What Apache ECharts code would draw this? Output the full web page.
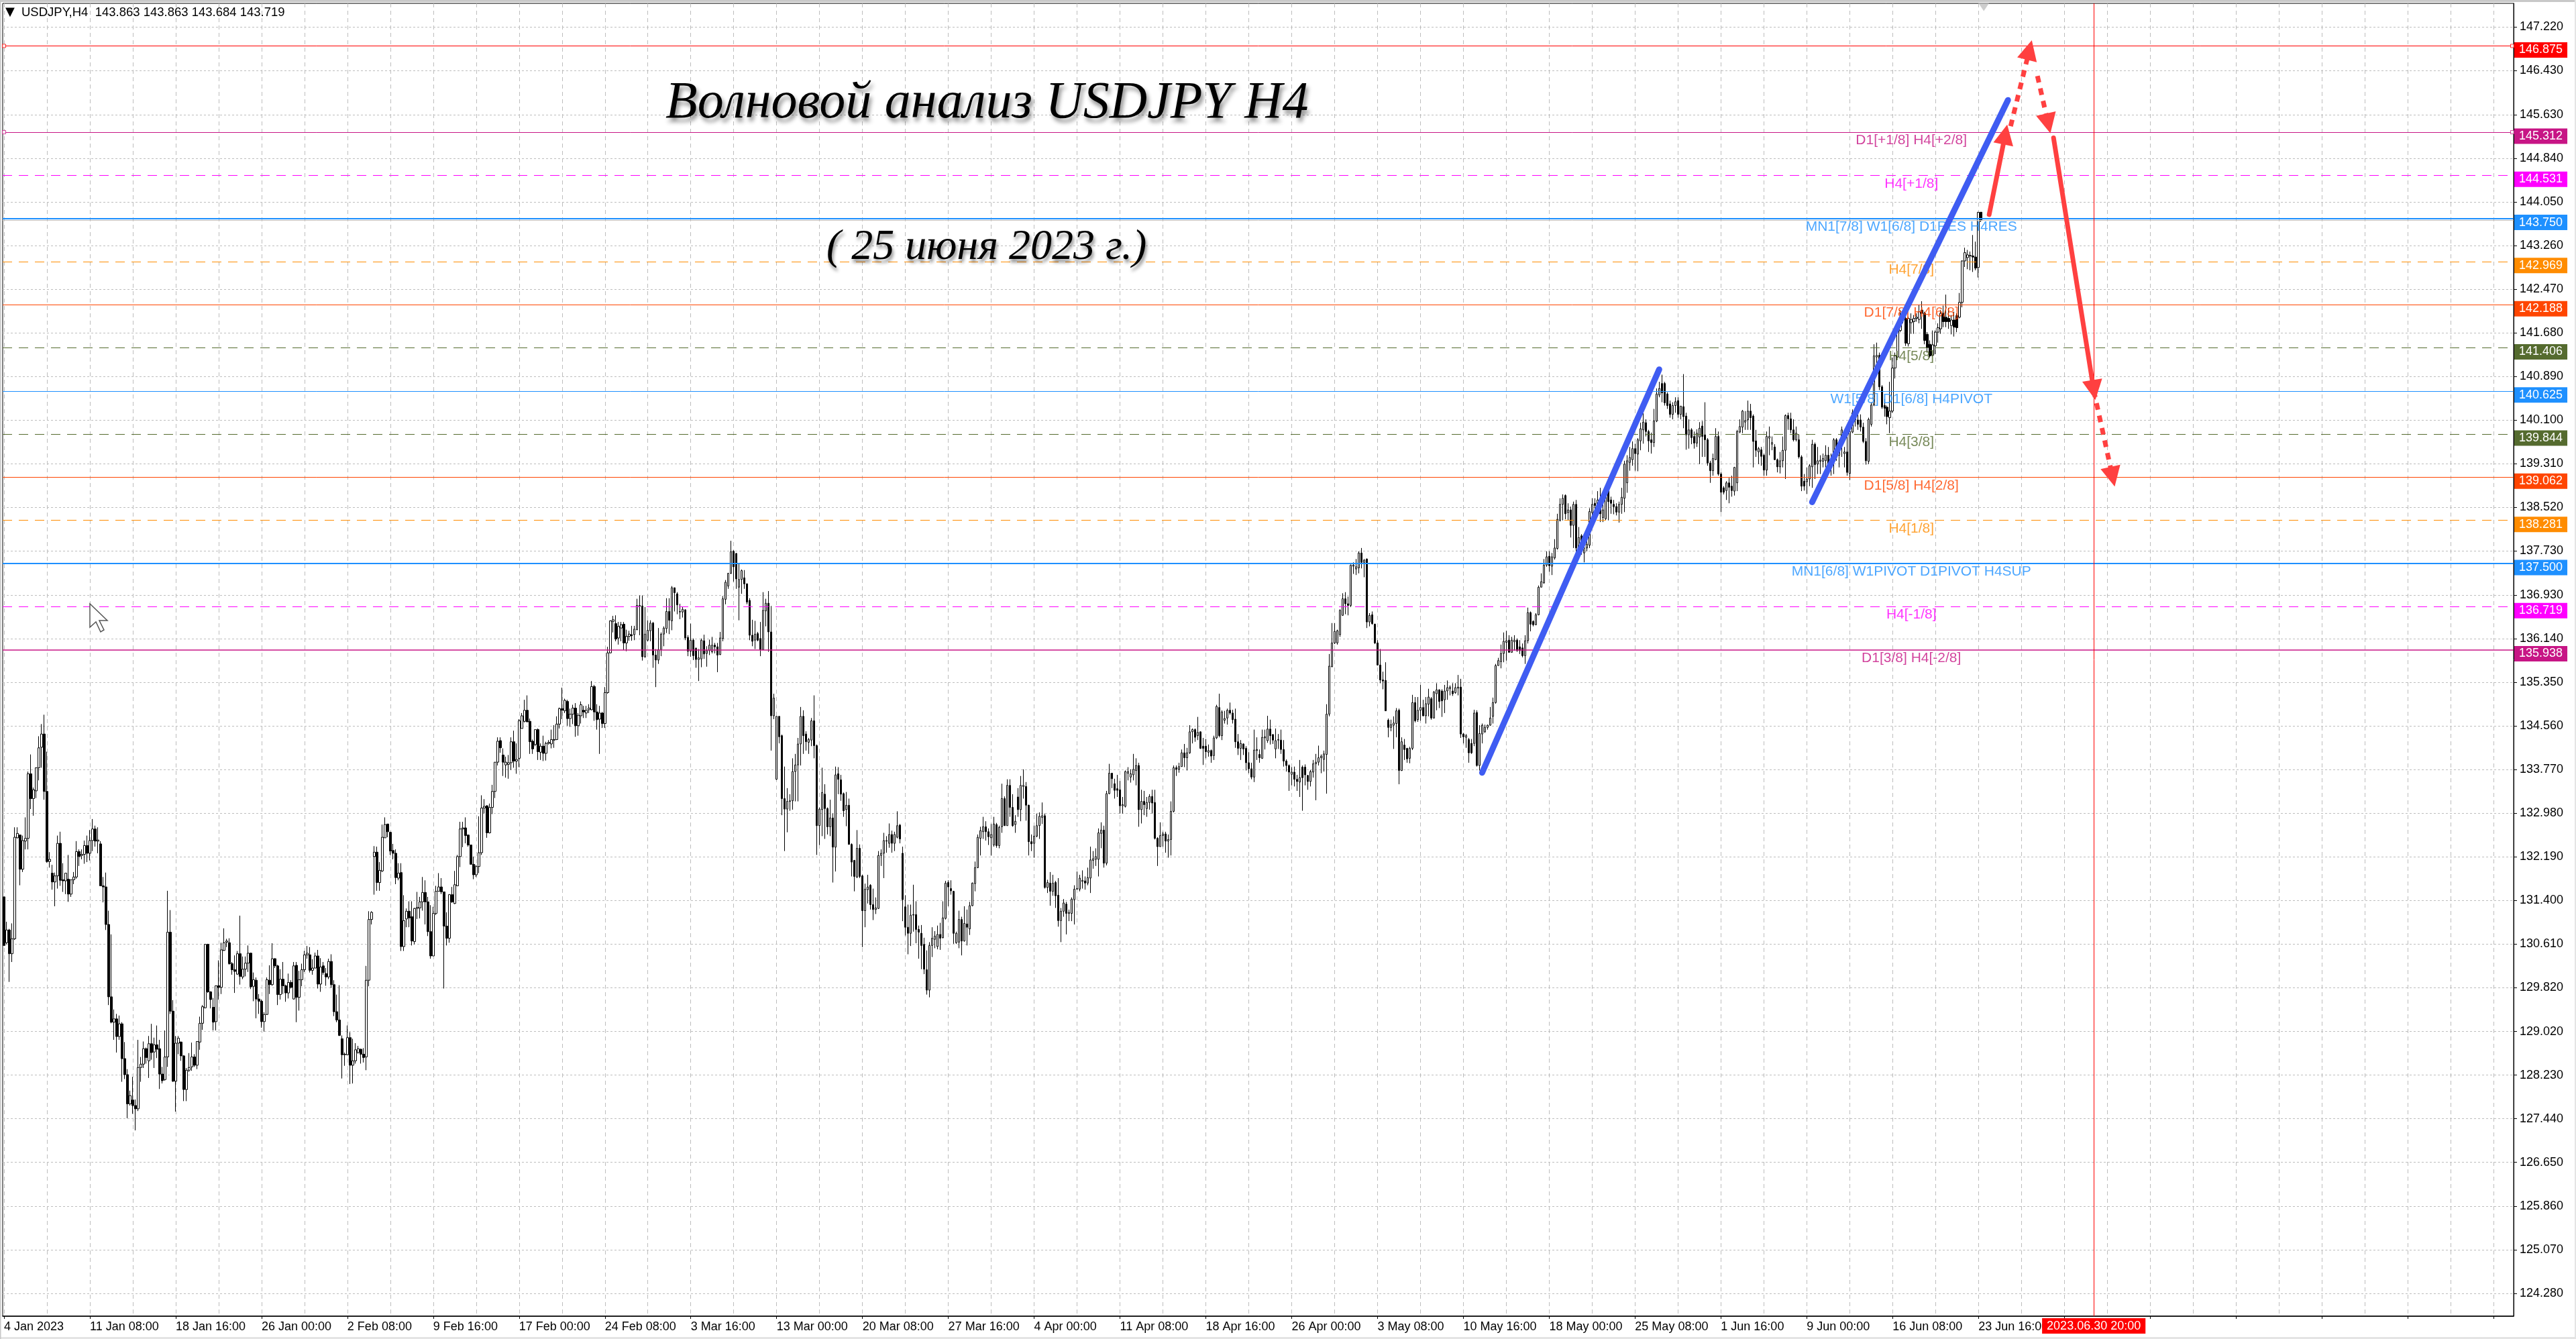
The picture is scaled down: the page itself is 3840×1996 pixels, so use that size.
<!DOCTYPE html>
<html><head><meta charset="utf-8">
<style>html,body{margin:0;padding:0;background:#fff}#c{width:3840px;height:1996px}</style>
<script src="https://cdn.jsdelivr.net/npm/echarts@6/dist/echarts.min.js"></script>
</head><body><div id="c"></div>
<script>
const yTicks=[147.22,146.43,145.63,144.84,144.05,143.26,142.47,141.68,140.89,140.10,139.31,138.52,137.73,136.93,136.14,135.35,134.56,133.77,132.98,132.19,131.40,130.61,129.82,129.02,128.23,127.44,126.65,125.86,125.07,124.28];
const tickLabels=['4 Jan 2023','11 Jan 08:00','18 Jan 16:00','26 Jan 00:00','2 Feb 08:00','9 Feb 16:00','17 Feb 00:00','24 Feb 08:00','3 Mar 16:00','13 Mar 00:00','20 Mar 08:00','27 Mar 16:00','4 Apr 00:00','11 Apr 08:00','18 Apr 16:00','26 Apr 00:00','3 May 08:00','10 May 16:00','18 May 00:00','25 May 08:00','1 Jun 16:00','9 Jun 00:00','16 Jun 08:00','23 Jun 16:00'];
// each bar: open, high, low, close
const barsJan=[[131.46,131.46,130.58,130.58],[130.63,131.01,130.60,130.86],[130.86,130.88,129.92,130.43],[130.43,130.98,130.28,130.70],[130.70,132.72,130.68,132.54],[132.53,132.72,132.52,132.61],[132.58,132.59,131.67,131.96],[131.96,132.57,131.91,132.48],[132.47,132.90,132.32,132.52],[132.52,133.73,132.32,133.69],[133.69,134.04,133.05,133.24],[133.24,133.44,132.93,133.40],[133.38,133.80,133.25,133.80],[133.80,134.37,133.57,134.16],[134.17,134.59,133.80,134.41],[134.41,134.76,133.22,133.37],[133.37,134.09,132.08,132.10],[132.10,132.27,131.99,132.14],[131.89,132.04,131.59,131.73],[131.73,131.90,131.29,131.84],[131.84,132.57,131.61,132.43],[132.43,132.64,131.66,131.76],[131.77,132.07,131.55,131.75],[131.75,131.89,131.51,131.89],[131.78,132.22,131.37,131.51],[131.51,131.77,131.46,131.77],[131.77,131.91,131.69,131.82],[131.82,132.47,131.79,132.28],[132.28,132.32,132.02,132.19],[132.21,132.32,132.14,132.23],[132.23,132.48,132.06,132.39],[132.39,132.57,132.09,132.25],[132.25,132.67,132.12,132.48],[132.48,132.87,132.29,132.69],[132.69,132.75,132.37,132.47],[132.47,132.72,132.25,132.49],[132.42,132.47,131.66,131.66],[131.66,131.82,131.36,131.64],[131.64,131.90,130.86,130.96],[130.96,131.21,129.50,129.65],[129.65,130.78,129.17,129.19],[129.19,129.42,128.87,129.25],[129.25,129.34,128.64,128.93],[128.93,129.31,128.87,129.16],[129.16,129.19,128.11,128.53],[128.53,128.83,128.16,128.24],[128.24,128.34,127.45,127.71],[127.71,127.95,127.68,127.86],[127.78,128.20,127.53,127.68],[127.68,127.79,127.23,127.62]];
const barsFeb=[[127.62,128.87,127.58,128.37],[128.37,128.56,128.11,128.43],[128.43,128.84,128.36,128.71],[128.71,128.73,128.44,128.55],[128.49,128.94,128.18,128.80],[128.80,129.16,128.51,128.64],[128.65,128.91,128.36,128.78],[128.78,129.13,128.54,128.70],[128.71,128.87,127.98,128.25],[128.25,128.38,128.08,128.13],[128.15,129.04,128.13,128.56],[128.56,131.57,128.38,130.82],[130.82,131.22,129.34,129.39],[129.39,129.59,128.11,128.12],[128.12,128.94,127.57,128.81],[128.81,128.94,128.61,128.90],[128.83,128.84,128.49,128.58],[128.58,128.59,127.76,127.97],[127.97,128.36,127.76,128.32],[128.32,128.63,128.29,128.37],[128.38,128.82,128.31,128.56],[128.56,128.61,128.38,128.41],[128.41,128.84,128.34,128.84],[128.83,129.29,128.69,129.17],[129.17,129.50,129.05,129.47],[129.45,130.60,129.44,130.60],[130.60,130.61,129.72,129.74],[129.74,129.75,129.44,129.60],[129.46,129.63,129.04,129.19],[129.20,129.85,129.04,129.85],[129.85,130.31,129.60,129.82],[129.82,130.63,129.70,130.50],[130.49,130.89,130.48,130.63],[130.64,130.70,130.55,130.66],[130.63,130.71,130.23,130.25],[130.25,130.28,130.05,130.14],[130.14,130.40,129.72,130.11],[130.06,130.48,130.05,130.43],[130.43,131.12,129.87,130.02],[130.01,130.38,129.97,130.15],[130.15,130.38,130.02,130.26],[130.26,130.58,130.10,130.44],[130.44,130.45,129.79,129.83],[129.84,130.09,129.57,129.96],[129.95,130.00,129.26,129.61],[129.61,129.70,129.34,129.57],[129.57,129.60,129.09,129.20],[129.20,129.37,129.02,129.33],[129.33,130.00,129.32,129.96],[129.95,130.22,129.70,129.87]];
const barsMar1=[[129.87,130.62,129.85,130.34],[130.34,130.35,130.17,130.21],[130.21,130.23,129.50,129.69],[129.69,130.15,129.60,129.97],[129.97,130.28,129.70,129.85],[129.85,129.87,129.56,129.72],[129.72,130.07,129.62,129.91],[129.91,129.95,129.80,129.82],[129.61,130.28,129.60,130.21],[130.22,130.28,129.19,129.64],[129.64,130.12,129.40,129.96],[129.96,130.25,129.84,130.14],[130.14,130.48,130.10,130.41],[130.41,130.57,130.34,130.44],[130.41,130.55,130.09,130.13],[130.13,130.33,130.05,130.17],[130.17,130.45,130.17,130.39],[130.39,130.50,129.80,129.88],[129.88,130.35,129.74,130.19],[130.21,130.28,130.05,130.09],[130.07,130.17,129.85,130.01],[130.01,130.34,129.97,130.29],[130.29,130.42,129.81,129.87],[129.87,129.95,129.30,129.38],[129.38,129.69,129.19,129.23],[129.23,129.86,128.94,128.95],[128.89,128.95,128.17,128.60],[128.60,128.64,128.40,128.61],[128.60,129.13,128.59,128.91],[128.91,129.01,128.07,128.41],[128.41,128.89,128.08,128.49],[128.49,128.81,128.44,128.69],[128.64,128.76,128.62,128.71],[128.70,128.71,128.44,128.61],[128.61,128.72,128.46,128.55],[128.56,130.21,128.32,129.95],[129.95,131.20,129.84,131.05],[131.05,131.20,130.96,131.18]];
const barsMar2=[[132.19,132.38,131.50,132.27],[132.27,132.37,131.57,131.72],[131.72,132.09,131.57,131.94],[131.93,132.77,131.91,132.54],[132.53,132.90,132.53,132.77],[132.78,132.78,132.54,132.64],[132.63,132.64,132.22,132.29],[132.30,132.42,132.14,132.25],[132.25,132.32,131.69,131.81],[131.80,132.07,131.76,131.89],[131.90,132.07,130.48,130.56],[130.56,131.49,130.48,131.03],[131.06,131.25,130.91,131.20],[131.20,131.38,130.91,131.08],[131.10,131.38,130.58,130.66],[130.65,131.26,130.60,131.25],[131.25,131.55,131.06,131.27],[131.26,131.46,131.07,131.37],[131.37,131.82,131.21,131.54],[131.54,131.76,130.96,131.37],[131.37,131.46,130.75,130.83],[130.83,131.31,130.34,130.39],[130.39,131.28,130.39,131.16],[131.16,131.66,131.13,131.56],[131.56,131.89,131.56,131.64],[131.64,131.80,131.51,131.55],[131.55,131.55,129.80,130.93],[130.93,131.18,130.58,130.71],[130.71,131.51,130.63,131.50],[131.50,131.64,131.35,131.37],[131.34,131.93,131.33,131.68],[131.66,132.22,131.66,132.19],[132.19,132.82,132.00,132.69],[132.69,132.82,132.36,132.71],[132.71,132.90,132.43,132.57],[132.58,132.59,132.37,132.40],[132.40,132.40,132.05,132.05],[132.05,132.19,131.78,131.86],[131.86,132.04,131.82,132.01],[132.01,132.92,131.89,132.26],[132.26,133.30,132.22,133.07],[133.07,133.23,132.97,133.10],[133.11,133.12,132.53,132.62],[132.62,133.15,132.61,133.08],[133.08,133.49,132.96,133.37],[133.37,133.90,133.25,133.90],[133.90,134.35,133.84,134.28],[134.29,134.35,134.07,134.16]];
const barsApr1=[[134.03,134.15,133.65,133.90],[133.85,134.00,133.62,133.90],[133.86,134.03,133.60,133.89],[133.89,134.35,133.76,134.27],[134.27,134.47,133.80,133.92],[133.92,134.24,133.69,133.95],[133.97,134.68,133.81,134.65],[134.51,134.79,134.51,134.74],[134.64,135.03,134.62,134.84],[134.84,135.11,134.63,134.63],[134.64,134.69,134.05,134.27],[134.28,134.31,134.05,134.14],[134.22,134.49,134.19,134.49],[134.49,134.51,133.94,134.09],[134.08,134.24,133.94,134.19],[134.19,134.38,133.92,134.06],[134.06,134.27,133.93,134.24],[134.24,134.30,134.22,134.26],[134.23,134.49,134.15,134.31],[134.31,134.57,134.16,134.30],[134.31,134.73,134.30,134.59],[134.59,134.89,134.51,134.87],[134.87,135.25,134.68,134.84],[134.83,135.05,134.79,135.02],[135.00,135.03,134.56,134.69],[134.69,134.87,134.54,134.77],[134.77,134.94,134.59,134.88],[134.88,134.97,134.36,134.56],[134.56,134.79,134.38,134.75],[134.74,135.00,134.60,134.94],[134.84,134.92,134.70,134.81],[134.79,134.92,134.70,134.84],[134.85,134.95,134.79,134.88],[134.85,135.37,134.84,135.27],[135.27,135.30,134.65,134.81],[134.81,134.95,134.49,134.67],[134.68,134.92,134.05,134.79],[134.79,134.81,134.52,134.60],[134.60,135.26,134.52,135.16],[135.16,135.99,135.14,135.88],[135.88,136.47,135.87,136.46],[136.45,136.55,136.25,136.48],[136.41,136.56,136.09,136.13],[136.15,136.44,136.03,136.36],[136.33,136.44,136.09,136.39],[136.40,136.44,135.93,136.06],[136.06,136.30,135.91,136.18],[136.18,136.28,136.10,136.22],[136.21,136.37,136.10,136.19],[136.21,136.37,136.11,136.31],[136.30,136.86,136.29,136.74],[136.72,136.92,136.20,136.74],[136.73,136.92,135.74,135.81],[135.81,136.71,135.79,136.22]];
const barsApr2=[[136.11,136.47,136.09,136.29],[136.28,136.47,136.09,136.42],[136.42,136.44,135.61,135.84],[135.84,135.95,135.26,135.75],[135.75,136.33,135.68,135.94],[135.94,136.25,135.82,136.22],[136.22,136.36,136.00,136.33],[136.32,136.87,136.24,136.63],[136.63,136.87,136.22,136.47],[136.46,137.09,136.29,137.06],[137.06,137.06,136.63,136.97],[136.95,136.98,136.58,136.75],[136.62,136.77,136.49,136.63],[136.62,136.71,136.52,136.67],[136.66,136.67,136.11,136.15],[136.16,136.20,135.82,135.91],[135.91,136.41,135.81,136.11],[136.11,136.14,135.75,135.83],[135.96,135.98,135.61,135.76],[135.76,135.95,135.37,135.79],[135.77,136.14,135.62,136.11],[136.10,136.21,135.77,135.86],[135.87,136.00,135.63,135.92],[135.92,136.12,135.84,136.02],[135.90,136.17,135.87,136.02],[136.02,136.06,135.87,135.99],[135.99,136.06,135.53,135.84],[135.85,136.26,135.84,136.15],[136.14,136.91,136.09,136.86],[136.85,137.20,136.76,137.16],[137.09,137.33,137.04,137.32],[137.32,137.91,137.31,137.71],[137.72,137.74,137.17,137.44],[137.68,137.69,137.04,137.22],[137.07,137.51,136.47,137.21],[137.21,137.39,136.95,137.37],[137.24,137.38,137.04,137.13],[137.13,137.14,136.76,136.80],[136.83,136.87,136.11,136.20],[136.20,136.48,136.00,136.09],[136.11,136.46,135.95,136.22],[136.23,136.26,136.09,136.11],[136.14,136.44,135.82,135.94],[135.94,136.98,135.93,136.65],[136.64,136.86,136.36,136.78],[136.78,137.00,135.90,136.26],[136.26,136.73,134.11,134.74],[134.74,135.14,134.68,135.06],[133.59,134.73,133.58,134.73],[134.73,134.73,134.24,134.36],[134.38,134.40,132.94,133.24],[133.24,133.82,132.29,133.05],[133.05,133.43,132.63,133.19],[133.19,133.32,133.02,133.20],[133.20,133.97,133.04,133.73],[133.73,134.05,133.19,133.85],[133.85,134.34,133.19,134.23],[134.23,134.90,133.84,134.73],[134.73,134.84,134.05,134.38],[134.41,134.46,134.11,134.27],[134.26,134.34,134.05,134.31],[134.30,134.70,134.19,134.65],[134.65,135.11,133.97,134.20],[134.20,134.22,132.22,132.75]];
const barsMay1=[[132.75,133.08,132.40,133.05],[133.04,133.80,132.56,133.35],[133.32,133.50,132.51,133.06],[133.06,133.08,132.59,132.73],[132.73,133.22,132.56,132.89],[132.89,132.97,131.72,132.36],[132.36,133.82,131.92,133.67],[133.69,133.81,133.32,133.59],[133.58,133.67,133.20,133.32],[133.33,133.35,132.91,133.02],[133.04,133.36,132.74,133.12],[133.12,133.24,132.41,132.41],[132.41,132.43,131.83,132.09],[132.12,132.13,131.56,131.83],[131.82,132.67,131.80,132.34],[132.34,132.41,131.80,131.83],[131.84,131.86,130.55,131.21],[131.21,131.70,130.91,131.60],[131.59,131.86,131.34,131.64],[131.67,131.69,131.23,131.32],[131.32,131.61,131.04,131.23],[131.23,131.45,131.15,131.26],[131.25,132.29,131.24,132.21],[132.21,132.32,132.02,132.25],[132.25,132.62,131.80,132.48],[132.47,132.56,132.26,132.48],[132.43,132.79,132.35,132.59],[132.59,132.66,132.26,132.43],[132.43,132.64,132.29,132.59],[132.54,133.01,132.52,132.75],[132.76,132.78,132.43,132.51],[132.25,132.37,131.02,131.41],[131.28,131.49,130.76,130.91],[130.91,131.32,130.42,130.80],[130.80,131.32,130.57,131.13],[131.13,131.68,130.83,131.14],[131.14,131.38,130.62,130.87],[130.87,130.94,130.34,130.82],[130.80,130.95,130.15,130.58],[130.60,130.72,130.06,130.15],[130.14,130.49,129.69,129.77],[129.77,130.64,129.64,130.58],[130.58,130.91,130.37,130.71],[130.69,130.84,130.53,130.75],[130.56,130.94,130.51,130.78],[130.78,130.99,130.50,130.71],[130.72,131.38,130.71,131.08],[131.07,131.75,131.05,131.71],[131.72,131.76,131.29,131.64],[131.61,131.76,131.50,131.57],[131.56,131.57,130.61,130.80],[130.63,130.83,130.61,130.80],[130.64,131.21,130.53,131.05],[131.05,131.10,130.40,130.66],[130.66,131.29,130.65,130.98],[130.97,131.23,130.58,130.91],[130.88,131.37,130.77,131.30],[131.30,131.72,131.29,131.71],[131.70,132.10,131.56,131.99],[131.99,132.59,131.98,132.54],[132.52,132.73,132.21,132.66],[132.64,132.91,132.51,132.73],[132.73,132.83,132.48,132.64],[132.64,132.70,132.40,132.55],[132.53,132.78,132.21,132.59],[132.40,132.91,132.37,132.78],[132.77,132.80,132.35,132.39],[132.39,132.75,132.34,132.72],[132.73,133.51,132.62,133.24],[133.24,133.28,132.75,132.75]];
const barsMay2=[[132.75,133.59,132.75,133.48],[133.48,133.59,132.91,133.08],[133.08,133.32,132.73,132.75],[132.77,132.94,132.62,132.83],[133.27,133.43,132.91,133.04],[133.04,133.65,132.83,133.48],[133.46,133.77,133.24,133.48],[133.46,133.54,132.84,133.12],[133.12,133.13,132.21,132.46],[132.46,132.59,132.29,132.42],[132.43,132.75,132.17,132.56],[132.56,132.97,132.54,132.75],[132.75,132.99,132.51,132.92],[132.90,133.17,132.78,132.93],[132.93,132.97,131.61,131.63],[131.63,131.77,131.53,131.72],[131.71,131.91,131.30,131.56],[131.56,131.86,131.48,131.71],[131.72,131.75,131.26,131.48],[131.49,131.80,130.92,131.03],[131.03,131.26,130.64,131.20],[131.20,131.42,131.10,131.35],[131.33,131.37,130.78,131.16],[131.16,131.23,131.02,131.18],[131.16,131.45,131.02,131.42],[131.41,131.67,130.96,131.60],[131.60,131.92,131.59,131.61],[131.60,131.86,131.56,131.80],[131.74,131.94,131.61,131.76],[131.75,131.83,131.59,131.71],[131.71,131.99,131.67,131.81],[131.80,132.37,131.53,132.13],[132.12,132.29,131.97,132.15],[132.14,132.34,132.02,132.19],[132.14,132.70,131.83,132.62],[132.61,132.81,132.34,132.67],[132.67,132.75,131.99,132.07],[132.07,133.38,132.03,133.33],[133.33,133.87,133.32,133.70],[133.70,133.70,133.43,133.60],[133.51,133.60,133.24,133.39],[133.42,133.67,133.27,133.39],[133.40,133.56,132.97,133.11],[133.11,133.27,132.97,133.13],[133.10,133.75,133.08,133.73],[133.70,133.81,133.57,133.73],[133.63,133.77,133.53,133.69],[133.67,134.05,133.57,133.77],[133.75,133.97,133.48,133.84],[133.84,133.89,132.73,133.04],[133.04,133.40,132.79,133.19],[133.19,133.38,132.94,133.13],[133.06,133.27,132.91,133.17],[133.17,133.32,133.04,133.28],[133.28,133.40,132.97,133.16],[133.17,133.40,132.50,132.52],[132.52,132.54,132.02,132.37],[132.37,132.81,132.37,132.57],[132.57,132.64,132.37,132.60],[132.60,132.64,132.26,132.47],[132.47,132.59,132.17,132.50],[132.50,133.19,132.21,133.01],[133.01,133.84,132.99,133.80],[133.80,133.84,133.65,133.77],[133.77,133.89,133.71,133.82],[133.82,134.13,133.82,134.07],[134.07,134.23,133.81,133.98],[133.98,134.16,133.75,134.07],[134.07,134.57,134.05,134.45],[134.45,134.51,134.24,134.49],[134.49,134.51,134.27,134.35],[134.38,134.72,134.30,134.44],[134.45,134.46,134.14,134.15]];
const barsMay3=[[134.19,134.34,133.85,134.15],[134.19,134.32,133.97,134.09],[134.08,134.22,134.00,134.11],[134.11,134.13,133.89,134.01],[134.02,134.38,133.94,134.34],[134.34,134.94,134.32,134.91],[134.89,135.14,134.35,134.38],[134.38,134.84,134.30,134.81],[134.66,134.83,134.60,134.69],[134.70,134.87,134.58,134.84],[134.84,134.98,134.76,134.79],[134.79,134.85,134.60,134.67],[134.68,134.87,134.16,134.27],[134.27,134.41,134.03,134.15],[134.15,134.30,133.94,134.24],[134.23,134.24,134.03,134.14],[134.15,134.19,133.75,133.89],[133.89,134.08,133.70,133.78],[133.78,133.89,133.59,133.63],[133.63,134.49,133.54,134.12],[134.11,134.35,133.94,134.13],[134.04,134.13,133.89,133.98],[133.97,134.49,133.96,134.35],[134.34,134.49,134.13,134.36],[134.29,134.74,134.25,134.50],[134.50,134.67,134.22,134.38],[134.40,134.41,134.23,134.30],[134.14,134.51,133.97,134.29],[134.30,134.41,134.14,134.31],[134.30,134.49,134.05,134.13],[134.13,134.30,133.82,133.92],[133.92,133.95,133.73,133.84],[133.84,133.86,133.38,133.72],[133.68,133.81,133.48,133.72],[133.72,133.82,133.46,133.59],[133.59,133.67,133.38,133.55],[133.54,133.94,133.27,133.62],[133.81,133.84,133.02,133.62],[133.81,133.86,133.48,133.67],[133.66,133.67,133.40,133.55],[133.55,133.76,133.46,133.73],[133.72,133.94,133.62,133.87],[133.87,134.05,133.21,133.90],[133.90,134.20,133.84,133.98],[133.98,134.04,133.70,134.01],[133.95,134.11,133.73,134.05],[134.04,134.95,133.33,134.77],[134.77,135.86,134.73,135.64],[135.63,136.42,135.62,136.06],[136.06,136.42,136.04,136.27],[136.06,136.30,136.03,136.28],[136.21,136.67,136.17,136.65],[136.56,136.96,136.55,136.86],[136.86,136.98,136.58,136.77],[136.77,136.90,136.56,136.74],[136.74,137.48,136.71,137.47],[137.45,137.52,137.31,137.47],[137.40,137.58,137.29,137.44],[137.42,137.72,137.32,137.69],[137.69,137.78,137.41,137.52],[137.52,137.58,137.25,137.56],[137.58,137.59,136.33,136.44],[136.44,136.60,136.36,136.56],[136.57,136.63,136.39,136.41],[136.40,136.41,136.04,136.06],[136.06,136.11,135.65,135.66],[135.66,135.95,135.33,135.39],[135.39,135.54,135.22,135.37],[135.38,135.71,134.83,134.83]];
const barsMay4=[[134.66,134.69,134.35,134.53],[134.53,134.67,134.46,134.58],[134.57,134.73,134.14,134.61],[134.60,134.88,134.35,134.83],[134.84,134.87,133.50,133.75],[133.75,134.35,133.74,134.27],[134.21,134.32,133.94,134.13],[134.15,134.16,133.89,133.96],[133.97,134.18,133.88,134.15],[134.15,135.12,134.12,134.98],[134.98,135.08,134.62,134.65],[134.67,135.08,134.63,134.84],[134.84,135.30,134.65,134.89],[134.89,135.03,134.73,134.74],[134.74,135.08,134.60,134.96],[134.95,135.23,134.73,135.08],[135.05,135.08,134.67,134.70],[134.70,135.19,134.69,135.17],[135.14,135.33,134.84,135.21],[135.21,135.22,134.88,135.00],[135.19,135.22,134.72,135.01],[135.03,135.30,134.79,135.19],[135.19,135.38,135.03,135.25],[135.23,135.29,135.11,135.26],[135.19,135.33,135.10,135.14],[135.16,135.33,135.14,135.25],[135.24,135.48,135.11,135.26],[135.26,135.41,134.34,134.41],[134.41,134.43,134.24,134.36],[134.35,134.41,134.16,134.38],[134.31,134.34,133.89,134.07],[134.24,134.32,134.05,134.07],[134.24,134.85,134.19,134.79],[134.80,134.84,133.82,133.84],[133.84,134.57,133.75,134.42],[134.41,134.60,134.24,134.57],[134.45,134.58,134.43,134.53],[134.53,134.58,134.49,134.57],[134.57,134.90,134.56,134.70],[134.73,135.07,134.60,134.98],[134.98,135.68,134.96,135.65],[135.65,135.79,135.65,135.74],[135.72,136.03,135.60,135.87],[135.87,136.25,135.71,136.09],[136.07,136.28,135.74,136.10]];
const barsJun1=[[136.11,136.20,135.89,135.89],[135.89,136.17,135.89,136.11],[136.08,136.20,135.92,136.11],[136.11,136.14,135.90,135.92],[135.99,136.11,135.86,135.92],[135.97,136.05,135.80,135.83],[135.83,136.20,135.68,136.10],[136.10,136.70,136.05,136.61],[136.61,136.63,136.27,136.40],[136.45,136.47,136.36,136.39],[136.39,136.60,136.38,136.57],[136.57,137.10,136.56,137.07],[137.07,137.32,137.07,137.17],[137.15,137.58,137.13,137.47],[137.47,137.72,137.44,137.62],[137.63,137.72,137.35,137.46],[137.45,137.69,137.29,137.62],[137.60,137.94,137.57,137.78],[137.77,138.40,137.75,138.30],[138.28,138.68,138.26,138.57],[138.57,138.75,138.28,138.68],[138.73,138.75,138.30,138.40],[138.42,138.59,138.28,138.47],[138.47,138.53,137.97,138.19],[138.19,138.62,137.78,138.57],[138.57,138.65,137.66,137.78],[137.78,138.16,137.72,137.97],[138.00,138.03,137.66,137.72],[137.69,137.85,137.52,137.78],[137.78,138.00,137.72,137.85],[137.83,138.50,137.78,138.44],[138.42,138.68,138.28,138.57],[138.59,138.68,138.31,138.55],[138.56,138.81,138.37,138.65],[138.62,138.87,138.25,138.40],[138.33,138.68,138.25,138.47],[138.31,138.90,138.28,138.87],[138.87,138.90,138.28,138.62],[138.65,138.71,138.40,138.59],[138.57,138.65,138.39,138.53],[138.53,138.59,138.37,138.43],[138.43,138.62,138.24,138.57],[138.57,138.87,138.40,138.70],[138.68,139.36,138.43,139.30],[138.96,139.46,138.78,139.36],[139.33,139.61,139.18,139.42],[139.38,139.71,139.27,139.58],[139.58,139.67,139.18,139.49],[139.48,139.77,139.17,139.74],[139.72,140.05,139.55,139.94],[139.92,140.22,139.67,140.06],[140.05,140.11,139.80,139.89],[139.89,139.92,139.52,139.72],[139.74,139.87,139.49,139.69],[139.69,140.30,139.61,140.08],[140.08,140.67,140.06,140.57],[140.55,140.79,140.51,140.67],[140.76,140.92,140.42,140.59],[140.76,140.79,140.36,140.41],[140.57,140.60,140.30,140.36],[140.39,140.45,140.14,140.20],[140.20,140.42,140.11,140.36],[140.36,140.51,140.23,140.43],[140.45,140.51,140.14,140.20],[140.20,140.35,140.11,140.35],[140.34,140.93,139.95,140.16],[140.17,140.23,139.56,139.83],[139.83,140.11,139.58,139.92],[139.92,139.95,139.66,139.78],[139.80,139.89,139.58,139.68],[139.68,139.93,139.61,139.86],[139.79,140.06,139.30,139.95],[139.99,140.08,139.43,139.80],[139.83,140.42,139.43,139.74],[139.74,139.77,139.27,139.32],[139.32,139.36,138.96,139.18],[139.18,139.49,139.09,139.40],[139.38,139.95,139.37,139.80],[139.80,139.89,139.09,139.12],[139.12,139.15,138.43,138.79]];
const barsJun2=[[138.87,138.90,138.75,138.79],[138.82,138.99,138.65,138.96],[138.96,139.05,138.59,138.88],[138.90,139.09,138.71,138.82],[138.81,139.25,138.73,139.24],[138.96,139.92,138.81,139.89],[139.88,140.11,139.86,139.98],[139.97,140.28,139.86,140.26],[140.06,140.26,139.92,140.09],[140.10,140.45,139.92,140.26],[140.26,140.39,139.92,140.14],[140.17,140.20,139.24,139.71],[139.72,139.92,139.43,139.55],[139.52,139.61,139.30,139.58],[139.56,139.61,139.27,139.44],[139.46,139.49,139.09,139.19],[139.19,139.89,139.09,139.80],[139.77,139.98,139.46,139.80],[139.66,139.80,139.55,139.69],[139.61,139.66,139.37,139.38],[139.38,139.40,139.15,139.25],[139.25,139.52,139.13,139.36],[139.36,139.80,139.24,139.55],[139.55,140.20,139.03,140.18],[140.18,140.23,139.92,140.12],[140.12,140.23,139.86,139.92],[139.92,140.11,139.71,139.74],[139.74,139.98,139.71,139.86],[139.74,139.84,139.40,139.43],[139.43,139.46,138.81,138.90],[138.99,139.12,138.82,138.90],[138.98,139.24,138.76,139.03],[139.03,139.30,138.90,139.27],[139.25,139.74,138.87,139.66],[139.66,139.69,139.03,139.29],[139.30,139.61,139.12,139.36],[139.35,139.46,139.12,139.37],[139.35,139.49,139.24,139.40],[139.36,139.64,139.24,139.46],[139.46,139.61,139.21,139.29],[139.24,139.49,139.09,139.36],[139.35,139.77,139.12,139.74],[139.74,139.77,139.36,139.49],[139.46,139.74,139.24,139.69],[139.67,139.98,139.43,139.92],[139.49,139.61,139.24,139.52],[139.52,139.86,139.09,139.15],[139.13,139.92,139.01,139.89],[139.88,140.29,139.86,140.23],[140.23,140.32,139.98,140.10],[140.10,140.26,139.92,140.02],[140.10,140.20,139.89,139.97],[139.97,140.05,139.68,139.71],[139.71,139.77,139.29,139.36],[139.35,140.14,139.30,140.11],[140.02,140.42,139.98,140.37],[140.37,141.47,140.35,141.26],[141.24,141.50,141.10,141.27],[141.27,141.32,140.64,140.70],[140.70,140.73,140.30,140.33],[140.36,140.48,140.16,140.31],[140.33,140.36,140.02,140.16],[140.14,140.79,139.86,140.26],[140.26,141.23,140.23,141.04],[141.04,141.32,140.85,141.26],[141.24,141.85,141.22,141.72],[141.72,142.09,141.69,141.94],[142.06,142.09,141.85,141.94],[141.94,141.97,141.44,141.49],[141.48,141.97,141.43,141.94],[141.86,142.03,141.66,141.92],[141.88,142.00,141.66,141.94],[141.94,142.03,141.88,141.96],[141.92,142.19,141.85,142.06],[142.09,142.25,141.75,142.03],[142.03,142.06,141.47,141.54],[141.65,141.69,141.32,141.41],[141.47,141.54,141.23,141.26],[141.27,141.72,141.25,141.46],[141.44,141.72,141.29,141.69],[141.69,141.85,141.50,141.77],[141.75,142.09,141.66,142.03],[142.03,142.17,141.78,141.88],[141.96,142.37,141.78,141.88],[141.94,142.13,141.75,141.88],[141.81,142.00,141.65,141.91],[141.91,142.06,141.61,141.78],[141.99,142.03,141.69,141.77],[141.96,142.40,141.94,142.23],[142.23,142.99,142.14,142.98],[142.98,143.22,142.87,143.13],[143.04,143.18,142.83,143.09],[143.07,143.15,142.81,143.08],[143.07,143.45,142.78,143.05],[143.05,143.33,142.81,142.85],[142.86,143.87,142.68,143.86],[143.863,143.863,143.684,143.719]];
const bars=[].concat(barsJan,barsFeb,barsMar1,barsMar2,barsApr1,barsApr2,barsMay1,barsMay2,barsMay3,barsMay4,barsJun1,barsJun2);
const levelPrices=[146.875,145.312,144.531,143.750,142.969,142.188,141.406,140.625,139.844,139.062,138.281,137.500,136.719,135.938];
const levelColors=['#ff0000','#c71585','#ff00ff','#1e90ff','#ff8c00','#ff4500','#556b2f','#1e90ff','#556b2f','#ff4500','#ff8c00','#1e90ff','#ff00ff','#c71585'];
const levelWidths=[1,1,1,2,1,1,1,1,1,1,1,2,1,1.5];
const levelDashed=[0,0,1,0,1,0,1,0,1,0,1,0,1,0];
const levelNotes=['','D1[+1/8] H4[+2/8]','H4[+1/8]','MN1[7/8] W1[6/8] D1RES H4RES','H4[7/8]','D1[7/8] H4[6/8]','H4[5/8]','W1[5/8] D1[6/8] H4PIVOT','H4[3/8]','D1[5/8] H4[2/8]','H4[1/8]','MN1[6/8] W1PIVOT D1PIVOT H4SUP','H4[-1/8]','D1[3/8] H4[-2/8]'];
const bidPrice=143.719;
const barCount=936, noteBar=711, futureBar=779, lastBar=738;
const trendLines=[[[551,133.71],[617,141.015]],[[674,138.61],[747,145.894]]];
const arrowsSolid=[[[740,143.82],[746,145.27]],[[764,145.21],[779,140.64]]];
const arrowsDotted=[[[748,145.42],[755,146.80]],[[758,146.33],[762,145.47]],[[779,140.63],[786,139.07]]];

const categories=[];
for(let i=0;i<barCount;i++)categories.push(i%32===0&&tickLabels[i/32]?tickLabels[i/32]:'-');
const FONT='"Liberation Sans",Arial,sans-serif';
const chart=echarts.init(document.getElementById('c'),null,{renderer:'canvas'});
chart.setOption({
 animation:false,backgroundColor:'#fff',
 grid:{left:4,right:93,top:5,bottom:34,show:true,borderColor:'#000',borderWidth:1,backgroundColor:'#fff'},
 xAxis:{type:'category',data:categories,boundaryGap:true,
  axisLine:{show:true,lineStyle:{color:'#000',width:1.5}},
  axisTick:{show:true,alignWithLabel:true,length:4,interval:i=>i%32===0,lineStyle:{color:'#000'}},
  axisLabel:{show:true,interval:i=>i%32===0,color:'#000',fontFamily:FONT,fontSize:18,align:'left',margin:7,hideOverlap:false,formatter:v=>v==='-'?'':v},
  splitLine:{show:true,alignWithLabel:true,interval:i=>i%16===0,lineStyle:{color:'#bdbdbd',type:[6,5],width:1}}},
 yAxis:{type:'value',position:'right',min:123.864,max:147.646,scale:true,
  axisLine:{show:true,lineStyle:{color:'#000'}},
  axisTick:{show:true,length:5,customValues:yTicks,lineStyle:{color:'#000'}},
  axisLabel:{show:true,customValues:yTicks,color:'#000',fontFamily:FONT,fontSize:18,margin:9,padding:[3,0,0,0],formatter:v=>v.toFixed(3)},
  splitLine:{show:true,customValues:yTicks,lineStyle:{color:'#bdbdbd',type:[3,3],width:1}}},
 series:[
  {type:'candlestick',name:'USDJPY',z:2,large:false,progressive:0,barWidth:3,
   data:bars.map(b=>[b[0],b[3],b[2],b[1]]),
   itemStyle:{color:'#fff',color0:'#000',borderColor:'#000',borderColor0:'#000',borderWidth:1}},
  {type:'line',name:'levels',z:3,data:[],silent:true,
   markLine:{silent:true,symbol:['none','none'],animation:false,precision:3,
    data:[{yAxis:bidPrice,lineStyle:{color:'#c0c0c0',width:1,type:'solid'},label:{show:false}}].concat(levelPrices.map((p,i)=>({yAxis:p,
     lineStyle:{color:levelColors[i],width:levelWidths[i],type:levelDashed[i]?[14,10]:'solid'},
     label:{show:true,position:'end',distance:1,offset:[0,6],formatter:p.toFixed(3),color:'#fff',backgroundColor:levelColors[i],fontFamily:FONT,fontSize:18,padding:[3,7,2,7]}})))}},
  {type:'scatter',name:'notes',z:4,silent:true,symbolSize:0,
   data:levelNotes.map((t,i)=>({value:[noteBar,levelPrices[i]],label:{show:!!t,formatter:t,position:'bottom',distance:2,color:levelColors[i],fontFamily:FONT,fontSize:21}}))},
  {type:'scatter',name:'anchors',z:5,silent:true,symbol:'rect',symbolSize:5,
   data:[[0,146.875],[barCount-1,146.875],[0,145.312],[barCount-1,145.312]].map((v,i)=>({value:v,itemStyle:{color:'#fff',borderColor:i<2?'#ff0000':'#c71585',borderWidth:1}}))},
  {type:'scatter',name:'shift',z:5,silent:true,symbol:'triangle',symbolRotate:180,symbolSize:[16,12],data:[[lastBar,147.58]],itemStyle:{color:'#c0c0c0'}},
  {type:'line',name:'future',z:6,data:[],silent:true,
   markLine:{silent:true,symbol:['none','none'],animation:false,
    data:[{xAxis:futureBar,lineStyle:{color:'#ff0000',width:1,type:'solid'},
     label:{show:true,position:'start',distance:3,formatter:'2023.06.30 20:00',color:'#fff',backgroundColor:'#ff0000',fontFamily:FONT,fontSize:18,padding:[3,7,2,7]}}]}},
  {type:'line',name:'trend',z:7,data:[],silent:true,
   markLine:{silent:true,symbol:['none','none'],animation:false,label:{show:false},
    lineStyle:{color:'#3f5cf2',width:9,type:'solid',cap:'round'},
    data:trendLines.map(p=>[{coord:p[0]},{coord:p[1]}])}},
  {type:'line',name:'arrowsSolid',z:8,data:[],silent:true,
   markLine:{silent:true,symbol:['none','triangle'],symbolSize:30,animation:false,label:{show:false},
    lineStyle:{color:'#ff4040',width:7,type:'solid',cap:'round'},itemStyle:{color:'#ff4040'},
    data:arrowsSolid.map(p=>[{coord:p[0]},{coord:p[1]}])}},
  {type:'line',name:'arrowsDotted',z:8,data:[],silent:true,
   markLine:{silent:true,symbol:['none','triangle'],symbolSize:30,animation:false,label:{show:false},
    lineStyle:{color:'#ff4040',width:7,type:[10,9]},itemStyle:{color:'#ff4040'},
    data:arrowsDotted.map(p=>[{coord:p[0]},{coord:p[1]}])}}
 ],
 graphic:[
  {type:'rect',shape:{x:0,y:0,width:3840,height:3},style:{fill:'#c8c8c8'},silent:true,z:100},
  {type:'rect',shape:{x:0,y:1993,width:3840,height:3},style:{fill:'#e4e4e4'},silent:true,z:100},
  {type:'rect',shape:{x:0,y:0,width:1.5,height:1996},style:{fill:'#c8c8c8'},silent:true,z:100},
  {type:'rect',shape:{x:3838,y:0,width:2,height:1996},style:{fill:'#e4e4e4'},silent:true,z:100},
  {type:'text',x:8,y:9,style:{text:'▼',fill:'#000',font:'18px "DejaVu Sans"'},silent:true,z:100},
  {type:'text',x:32,y:9,style:{text:'USDJPY,H4  143.863 143.863 143.684 143.719',fill:'#000',font:'18.5px '+FONT},silent:true,z:100},
  {type:'text',x:992,y:115,style:{text:'Волновой анализ USDJPY H4',fill:'#000',font:'italic 78px "Liberation Serif"',textShadowColor:'rgba(0,0,0,.45)',textShadowBlur:6,textShadowOffsetX:3,textShadowOffsetY:6},silent:true,z:100},
  {type:'text',x:1232,y:337,style:{text:'( 25 июня 2023 г.)',fill:'#000',font:'italic 64px "Liberation Serif"',textShadowColor:'rgba(0,0,0,.45)',textShadowBlur:5,textShadowOffsetX:2,textShadowOffsetY:5},silent:true,z:100},
  {type:'polygon',shape:{points:[[134,900],[134,935],[143,927],[150,942],[155,939],[148,925],[160,925]]},style:{fill:'#fff',stroke:'#555',lineWidth:1.5},silent:true,z:100}
 ]
});
</script></body></html>
